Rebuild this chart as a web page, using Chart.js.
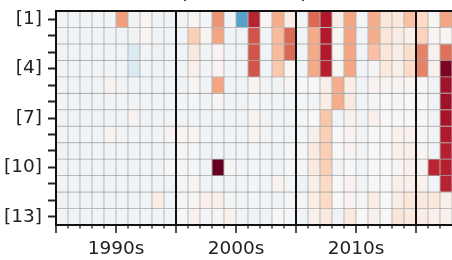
<!DOCTYPE html>
<html>
<head>
<meta charset="utf-8">
<script src="https://cdn.jsdelivr.net/npm/chart.js@4/dist/chart.umd.min.js"></script>
<style>
html, body { margin: 0; padding: 0; background: #fff; }
#wrap { width: 452px; height: 260px; }
</style>
</head>
<body>
<div id="wrap"><canvas id="myChart" width="452" height="260"></canvas></div>
<script>
// years on the x axis (one column each)
var years = [1990, 1991, 1992, 1993, 1994, 1995, 1996, 1997, 1998, 1999,
	2000, 2001, 2002, 2003, 2004, 2005, 2006, 2007, 2008, 2009,
	2010, 2011, 2012, 2013, 2014, 2015, 2016, 2017, 2018, 2019,
	2020, 2021, 2022];

var rowLabels = ['[1]', '', '', '[4]', '', '', '[7]', '', '', '[10]', '', '', '[13]'];
var decadeLabels = ['1990s', '2000s', '2010s'];
var decadeCenters = [1995, 2005, 2015];
var decadeEdges = [1990, 2000, 2010, 2020];

// cell values per row (-1 blue .. +1 red)
var row1 = [-.03, -.03, -.03, -.03, -.03, .42, -.04, .02, -.04, -.04,
	-.03, .02, -.02, .45, -.03, -.55, .77, .02, .37, .08,
	-.03, .57, .8, .08, .4, -.02, .37, .12, .11, .3, .2, .02, .4];
var row2 = [-.03, -.03, -.03, -.03, -.03, -.04, -.03, .02, -.03, -.03,
	-.03, .25, .02, .4, -.03, -.04, .63, -.03, .32, .57,
	-.03, .38, .8, .02, .4, -.03, .37, .12, .08, .05, .23, .02, .02];
var row3 = [-.03, -.03, -.03, -.03, -.03, -.03, -.15, -.03, -.06, -.03,
	-.03, .1, -.03, .03, -.03, -.03, .63, -.03, .32, .57,
	-.03, .38, .8, .02, .4, -.03, .3, .12, .07, .18, .5, .05, .55];
var row4 = [-.03, -.03, -.03, -.03, -.03, -.03, -.15, -.03, -.05, -.03,
	-.03, .05, -.03, .03, -.03, -.03, .63, -.03, .27, .02,
	-.03, .38, .78, .02, .4, -.03, -.02, .1, .06, .2, .5, .05, .95];
var row5 = [-.03, -.03, -.03, -.03, .03, -.03, -.03, -.03, -.03, -.03,
	-.04, .01, -.03, .4, -.03, -.03, .03, -.03, -.03, .02,
	0, 0, .06, .37, .07, -.03, .03, .02, .02, .02, .01, -.04, .85];
var row6 = [-.03, -.03, -.03, -.05, -.03, -.03, -.03, -.03, -.03, -.03,
	-.03, -.02, -.03, .02, -.03, -.04, -.02, -.03, -.03, -.03,
	-.02, -.03, .08, .37, .1, -.03, -.02, 0, -.02, 0, 0, -.04, .85];
var row7 = [-.03, -.03, -.03, -.03, -.03, -.03, .03, -.04, -.03, -.03,
	-.03, -.03, -.03, -.03, -.03, -.03, .03, -.03, -.03, -.03,
	-.02, 0, .28, -.03, .04, -.03, .05, 0, 0, 0, 0, -.03, .83];
var row8 = [-.03, -.03, -.03, -.03, .03, -.03, -.03, -.04, -.03, .03,
	.02, .02, -.03, -.05, -.03, -.03, .03, -.03, -.03, -.03,
	-.02, .06, .25, 0, .03, -.03, 0, 0, .04, .04, .02, -.03, .8];
var row9 = [-.04, -.03, -.03, -.03, -.03, -.03, -.03, -.03, -.04, -.03,
	-.02, -.02, -.05, -.03, -.03, -.03, -.02, -.03, -.03, -.02,
	-.02, .1, .25, 0, .03, -.03, 0, 0, .05, .06, .02, -.03, .78];
var row10 = [-.03, -.03, -.03, -.03, -.03, -.03, -.03, -.03, -.03, .02,
	-.02, -.02, -.03, 1.0, .02, -.03, -.02, -.03, -.03, -.02,
	-.02, .1, .25, -.03, 0, -.03, 0, 0, .02, .05, .03, .76, .78];
var row11 = [-.03, -.03, -.03, -.05, -.03, -.03, -.03, -.03, -.03, -.03,
	-.02, .03, -.03, -.03, -.03, -.03, -.02, -.03, .03, -.02,
	-.04, .06, .2, 0, .03, -.03, 0, 0, .05, .05, .04, -.03, .77];
var row12 = [-.04, -.03, -.03, -.03, -.03, -.03, -.03, -.03, .07, -.03,
	-.02, .02, .05, .06, -.02, -.03, -.02, -.03, -.03, -.02,
	-.02, .07, .2, 0, .03, -.02, .07, 0, .07, .12, .1, .12, .06];
var row13 = [-.03, -.05, -.03, -.03, -.03, -.03, -.03, -.03, -.03, -.03,
	0, .04, -.02, -.02, .04, -.03, -.04, -.04, 0, -.02,
	-.03, .05, .1, -.04, .1, 0, .04, 0, .13, .1, .08, .05, .04];

var rows = [row1, row2, row3, row4, row5, row6, row7, row8, row9, row10, row11, row12, row13];

// RdBu_r colour map, -1 .. 1
var rdbu = ['#053061', '#2166ac', '#4393c3', '#92c5de', '#d1e5f0', '#f7f7f7',
	'#fddbc7', '#f4a582', '#d6604d', '#b2182b', '#67001f'];

function hexToRgb(h) {
	return [parseInt(h.substr(1, 2), 16), parseInt(h.substr(3, 2), 16), parseInt(h.substr(5, 2), 16)];
}

function cellColor(v) {
	var t = (Math.max(-1, Math.min(1, v)) + 1) / 2 * (rdbu.length - 1);
	var i = Math.min(Math.floor(t), rdbu.length - 2);
	var f = t - i;
	var a = hexToRgb(rdbu[i]), b = hexToRgb(rdbu[i + 1]);
	var c = a.map(function(x, k) { return Math.round(x + (b[k] - x) * f); });
	return 'rgb(' + c.join(',') + ')';
}

var FONT = { family: 'DejaVu Sans', size: 18.5, weight: 'normal' };
var INK = '#222';

// short yearly ticks under the x axis
var minorTicks = {
	id: 'minorTicks',
	afterDraw: function(chart) {
		var sc = chart.scales.xt;
		var ctx = chart.ctx;
		var b = chart.chartArea.bottom;
		ctx.save();
		ctx.strokeStyle = INK;
		ctx.lineWidth = 1.3;
		years.forEach(function(y) {
			if (y % 5 === 0) return;
			var px = sc.getPixelForValue(y);
			ctx.beginPath();
			ctx.moveTo(px, b);
			ctx.lineTo(px, b + 3.5);
			ctx.stroke();
		});
		ctx.restore();
	}
};

// one dataset per row, each cell a floating bar spanning that row
var datasets = rows.map(function(vals, i) {
	return {
		label: 'row ' + (i + 1),
		data: vals.map(function() { return [i, i + 1]; }),
		backgroundColor: vals.map(cellColor),
		borderColor: 'rgba(120,120,120,0.5)',
		borderWidth: 0.8,
		borderSkipped: false,
		grouped: false,
		barPercentage: 1,
		categoryPercentage: 1
	};
});

var tickYears = [1990, 1995, 2000, 2005, 2010, 2015, 2020];

var chart = new Chart(document.getElementById('myChart'), {
	type: 'bar',
	data: { labels: years, datasets: datasets },
	options: {
		responsive: false,
		animation: false,
		devicePixelRatio: 1,
		layout: { padding: 0 },
		plugins: {
			legend: { display: false },
			tooltip: { enabled: false },
			title: {
				display: true,
				text: '(a) Number of publications per decade',
				color: INK,
				font: FONT,
				padding: { top: -18.6, bottom: 7.4 }
			}
		},
		scales: {
			x: { type: 'category', display: false },
			xt: {
				type: 'linear',
				position: 'bottom',
				min: 1990,
				max: 2023,
				offset: false,
				afterBuildTicks: function(s) {
					s.ticks = tickYears.map(function(v) { return { value: v }; });
				},
				afterFit: function(s) {
					s.height = 35;
					s.paddingLeft = 0;
					s.paddingRight = 0;
				},
				grid: {
					offset: false,
					z: 1,
					color: function(ctx) {
						return ctx.tick && decadeEdges.indexOf(ctx.tick.value) >= 0 ? '#111' : 'rgba(0,0,0,0)';
					},
					lineWidth: 2,
					drawOnChartArea: true,
					tickLength: 8,
					tickColor: INK,
					tickWidth: 1.6
				},
				border: { display: true, color: '#111', width: 2, z: 1 },
				ticks: {
					autoSkip: false,
					maxRotation: 0,
					padding: 5,
					color: INK,
					font: FONT,
					callback: function(v) {
						var k = decadeCenters.indexOf(v);
						return k >= 0 ? decadeLabels[k] : '';
					}
				}
			},
			xtop: {
				type: 'linear',
				position: 'top',
				min: 1990,
				max: 2023,
				offset: false,
				afterFit: function(s) { s.height = 0; },
				grid: { display: false, drawTicks: false },
				ticks: { display: false },
				border: { display: true, color: '#111', width: 2, z: 1 }
			},
			y: {
				type: 'linear',
				min: 0,
				max: 13,
				reverse: true,
				afterBuildTicks: function(s) {
					s.ticks = rowLabels.map(function(l, i) { return { value: i + 0.5 }; });
				},
				afterFit: function(s) {
					s.width = 56;
					s.paddingTop = 0;
					s.paddingBottom = 0;
				},
				grid: { drawOnChartArea: false, tickLength: 8, tickWidth: 2, tickColor: INK, z: 1 },
				border: { display: true, color: '#111', width: 2, z: 1 },
				ticks: {
					autoSkip: false,
					padding: 6,
					color: INK,
					font: FONT,
					callback: function(v, i) { return rowLabels[i]; }
				}
			}
		}
	},
	plugins: [minorTicks]
});
</script>
</body>
</html>
